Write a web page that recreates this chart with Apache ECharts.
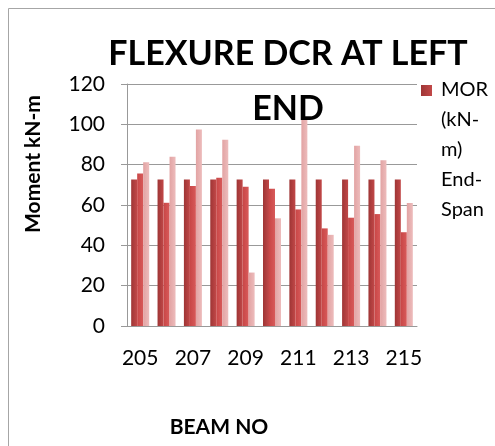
<!DOCTYPE html>
<html>
<head>
<meta charset="utf-8">
<script src="https://cdn.jsdelivr.net/npm/echarts@6/dist/echarts.min.js"></script>
<style>
html,body{margin:0;padding:0;background:#fff;}
#chart{width:495px;height:446px;}
</style>
</head>
<body>
<div id="chart"></div>
<script>
const categories = ['205','206','207','208','209','210','211','212','213','214','215'];
const morEndSpan = [72.7, 72.7, 72.7, 72.7, 72.7, 72.7, 72.7, 72.7, 72.7, 72.7, 72.7];
const seriesB = [75.6, 61.1, 69.4, 73.5, 69.0, 68.0, 57.8, 48.4, 53.7, 55.5, 46.5];
const seriesC = [81.2, 83.9, 97.5, 92.4, 26.5, 53.4, 103.0, 45.2, 89.4, 82.2, 61.0];
const yTicks = [0, 20, 40, 60, 80, 100, 120];

const font = 'Lato, "Open Sans", "DejaVu Sans", sans-serif';
const chart = echarts.init(document.getElementById('chart'));
chart.setOption({
  animation: false,
  backgroundColor: '#fff',
  graphic: [{
    type: 'rect', shape: {x: 8.5, y: 8.5, width: 500, height: 460},
    style: {fill: 'none', stroke: '#a6a6a6', lineWidth: 1}, z: -1
  }],
  title: {
    text: 'FLEXURE DCR AT LEFT\nEND',
    left: 283, top: 22, textAlign: 'center',
    textStyle: {fontFamily: font, fontWeight: 'bold', fontSize: 34, color: '#000', lineHeight: 55}
  },
  legend: {
    data: ['MOR (kN-m) End-Span'],
    left: 421, top: 75, orient: 'vertical', padding: 0,
    itemWidth: 11, itemHeight: 150,
    icon: 'path://M0,0h0.01v0.01h-0.01zM0,10h11v11h-11zM0,150h0.01v0.01h-0.01z',
    formatter: () => 'MOR\n(kN-\nm)\nEnd-\nSpan',
    textStyle: {fontFamily: font, fontSize: 20, color: '#000', lineHeight: 30, padding: [0, 0, 0, 4]}
  },
  grid: {left: 127, right: 78, top: 84, bottom: 120},
  xAxis: {
    type: 'category', data: categories,
    name: 'BEAM NO', nameLocation: 'middle', nameGap: 91,
    nameTextStyle: {fontFamily: font, fontWeight: 'bold', fontSize: 21, color: '#000', padding: [0, 106, 0, 0]},
    axisLine: {lineStyle: {color: '#999'}},
    axisTick: {show: false},
    axisLabel: {interval: 1, fontFamily: font, fontSize: 21, color: '#000', margin: 22}
  },
  yAxis: {
    type: 'value', min: 0, max: 120, interval: 20,
    name: 'Moment kN-m', nameLocation: 'middle', nameGap: 83, nameRotate: 90,
    nameTextStyle: {fontFamily: font, fontWeight: 'bold', fontSize: 21, color: '#000', padding: [0, 0, 0, 82]},
    axisLine: {show: true, lineStyle: {color: '#999'}},
    axisTick: {show: true, length: 6, lineStyle: {color: '#999'}},
    axisLabel: {fontFamily: font, fontSize: 21, color: '#000', margin: 22,
      formatter: v => yTicks.includes(v) ? String(v) : ''},
    splitLine: {lineStyle: {color: '#999', width: 1}}
  },
  series: [
    {name: 'MOR (kN-m) End-Span', type: 'bar', data: morEndSpan, barWidth: 6, barGap: '0%',
     itemStyle: {color: {type:'linear',x:0,y:0,x2:1,y2:0,colorStops:[{offset:0,color:'#9e3535'},{offset:1,color:'#c24848'}]}}},
    {name: 'B', type: 'bar', data: seriesB, barWidth: 6, barGap: '0%',
     itemStyle: {color: {type:'linear',x:0,y:0,x2:1,y2:0,colorStops:[{offset:0,color:'#c84646'},{offset:1,color:'#d85a5a'}]}}},
    {name: 'C', type: 'bar', data: seriesC, barWidth: 6, barGap: '0%',
     itemStyle: {color: {type:'linear',x:0,y:0,x2:1,y2:0,colorStops:[{offset:0,color:'#e2a3a3'},{offset:1,color:'#edbcbc'}]}}}
  ],
  color: ['#a04040', '#cc4a4a', '#e6aaaa']
});
</script>
</body>
</html>
